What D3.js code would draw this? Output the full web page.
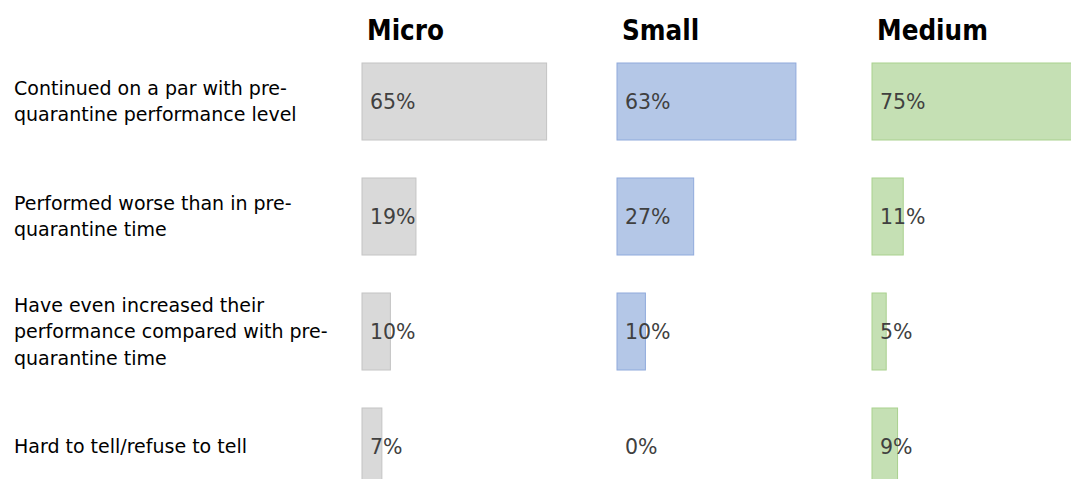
<!DOCTYPE html>
<html><head><meta charset="utf-8">
<script src="https://cdn.jsdelivr.net/npm/d3@7/dist/d3.min.js"></script>
<style>html,body{margin:0;padding:0;background:#fff;overflow:hidden}</style>
</head><body>
<script>
const categories = [
  ["Continued on a par with pre-", "quarantine performance level"],
  ["Performed worse than in pre-", "quarantine time"],
  ["Have even increased their", "performance compared with pre-", "quarantine time"],
  ["Hard to tell/refuse to tell"]
];
const groups = ["Micro", "Small", "Medium"];
const microValues = [65, 19, 10, 7];
const smallValues = [63, 27, 10, 0];
const mediumValues = [75, 11, 5, 9];
const seriesValues = [microValues, smallValues, mediumValues];
const fills = ["#d9d9d9", "#b4c7e7", "#c5e0b4"];
const strokes = ["#c4c4c4", "#8faadc", "#a9d18e"];

const W = 1071, H = 479;
const svg = d3.select("body").append("svg").attr("width", W).attr("height", H);
const fontC = "'DejaVu Sans Condensed', 'DejaVu Sans', sans-serif";
const font = "'DejaVu Sans', sans-serif";

const yBand = d3.scaleBand().domain(d3.range(4)).range([63, 485]).paddingInner(38/115).paddingOuter(0);
const gx = d3.scalePoint().domain(groups).range([362, 872]);
const x = d3.scaleLinear().domain([0, 100]).range([0, 284]);

groups.forEach((g, gi) => {
  svg.append("text").attr("x", gx(g) + 5).attr("y", 40)
    .attr("font-family", fontC).attr("font-weight", "bold").attr("font-size", 27.5)
    .attr("fill", "#000").text(g);
  const vals = seriesValues[gi];
  vals.forEach((v, i) => {
    if (v > 0) {
      svg.append("rect").attr("x", gx(g)).attr("y", yBand(i))
        .attr("width", x(v)).attr("height", yBand.bandwidth())
        .attr("fill", fills[gi]).attr("stroke", strokes[gi]).attr("stroke-width", 1);
    }
    svg.append("text").attr("x", gx(g) + 8).attr("y", yBand(i) + yBand.bandwidth()/2)
      .attr("dy", "0.35em").attr("font-family", font).attr("font-size", 20.5)
      .attr("fill", "#404040").text(v + "%");
  });
});

categories.forEach((lines, i) => {
  const cy = yBand(i) + yBand.bandwidth()/2;
  const lh = 26.5;
  const t = svg.append("text").attr("font-family", font).attr("font-size", 19).attr("fill", "#000");
  lines.forEach((l, k) => {
    t.append("tspan").attr("x", 14)
      .attr("y", cy + (k - (lines.length - 1)/2) * lh).attr("dy", "0.35em").text(l);
  });
});
</script>
</body></html>
